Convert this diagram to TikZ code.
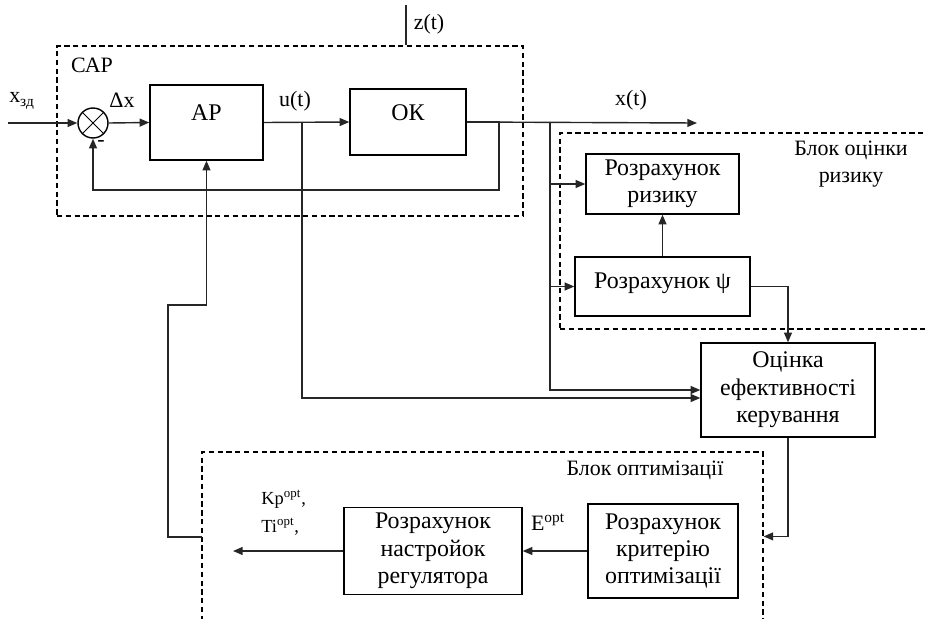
\documentclass[tikz,border=0pt]{standalone}
\usepackage{fontspec}
\setmainfont{Liberation Serif}
\usetikzlibrary{arrows.meta,calc}
\begin{document}
\begin{tikzpicture}[x=0.02cm, y=-0.02cm,
  font=\fontsize{12.5}{15}\selectfont,
  box/.style={draw, line width=0.8pt, inner sep=0pt, align=center, font=\fontsize{13.6}{15.6}\selectfont},
  dashbox/.style={draw, line width=0.7pt, dash pattern=on 3pt off 2pt, inner sep=0pt},
  ln/.style={line width=0.8pt, black!85},
  arr/.style={ln, -{Triangle[length=5.5pt,width=4.5pt]}},
  small/.style={font=\fontsize{10.5}{12}\selectfont, inner sep=0pt}]
\useasboundingbox (0,0) rectangle (927,619);
% dashed frames
\node[dashbox, minimum width=9.32cm, minimum height=3.4cm] (cap) at (290,131){};
\node[dashbox, minimum width=8cm, minimum height=3.92cm] (riskblk) at (760,231){};
\node[dashbox, minimum width=11.22cm, minimum height=4.16cm] (optblk) at (482.5,556){};
\node (lcap) at (92,65){САР};
\node[align=center] (lrisk) at (851,164){Блок оцінки\\ризику};
\node (lopt) at (645,470){Блок оптимізації};
% blocks
\node[draw, circle, line width=0.8pt, minimum size=0.6cm, inner sep=0pt] (sum) at (93,123){};
\draw[line width=0.6pt](sum.north east) -- (sum.south west);
\draw[line width=0.6pt](sum.north west) -- (sum.south east);
\node[box, minimum width=2.26cm, minimum height=1.5cm, text depth=10.8pt] (ap) at (206.5,122.5){АР};
\node[box, minimum width=2.32cm, minimum height=1.32cm, text depth=10.2pt] (ok) at (408,122){ОК};
\node[box, minimum width=3.06cm, minimum height=1.2cm] (risk) at (662.5,184){Розрахунок\\ризику};
\node[box, minimum width=3.5cm, minimum height=1.18cm, text depth=7pt] (psi) at (662.5,286.5){Розрахунок ψ};
\node[box, minimum width=3.48cm, minimum height=1.88cm] (eval) at (788,390){Оцінка\\ефективності\\керування};
\node[box, minimum width=3.56cm, minimum height=1.74cm] (tune) at (433,551){Розрахунок\\настройок\\регулятора};
\node[box, minimum width=3.0cm, minimum height=1.88cm] (crit) at (663,551){Розрахунок\\критерію\\оптимізації};
% signal labels
\node (lxzd) at (22,101){x\textsubscript{зд}};
\node (ldx) at (122,100){Δx};
\node (lminus) at (101,143){-};
\node (lut) at (295,101){u(t)};
\node (lzt) at (429,24){z(t)};
\node (lxt) at (631,100){x(t)};
\node (leopt) at (548,522){E\textsuperscript{opt}};
\node[small, anchor=west] (lkp) at (261,499){Kp\textsuperscript{opt},};
\node[small, anchor=west] (lti) at (261,527){Ti\textsuperscript{opt},};
% connectors
\coordinate (xin) at (8,123);
\coordinate (xout) at (697,123);
\coordinate (zt) at (406,5);
\coordinate (fb) at (499,190);
\coordinate (ubr) at (302,123);
\coordinate (xbr) at (550,123);
\coordinate (kin) at (202,537);
\coordinate (kup) at (168,305);
\coordinate (kout) at (233,551);
\draw[arr](xin) -- (sum.west);
\draw[arr](sum.east) -- (ap.west);
\draw[arr](ap.east) -- (ok.west);
\draw[arr](ok.east) -- (xout);
\draw[arr](ok.east) -| (fb) -| (sum.south);
\draw[ln](zt) -- (zt |- cap.north);
\draw[arr](ubr) |- ($(eval.west)+(0,8)$);
\draw[arr](xbr) |- (eval.west);
\draw[arr](xbr |- risk.west) -- (risk.west);
\draw[arr](xbr |- psi.west) -- (psi.west);
\draw[arr](psi.north) -- (risk.south);
\draw[arr](psi.east) -| (eval.north);
\draw[arr](eval.south) |- ($(optblk.north east)+(0,85)$);
\draw[arr](crit.west) -- (tune.east);
\draw[arr](tune.west) -- (kout);
\draw[arr](kin) -| (kup) -| (ap.south);
\end{tikzpicture}
\end{document}
